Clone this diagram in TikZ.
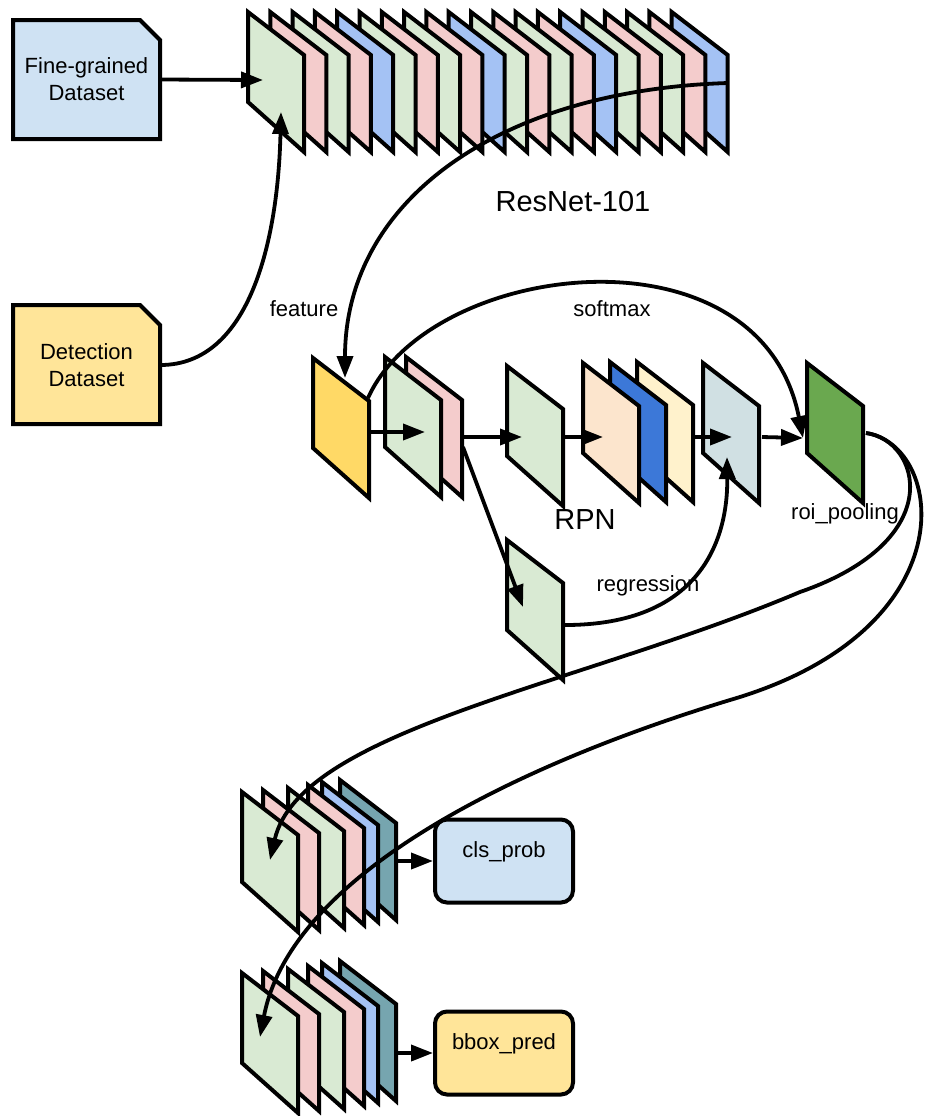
\documentclass[tikz,border=0pt]{standalone}
\usepackage{fontspec}
\setmainfont{Liberation Sans}
\usetikzlibrary{arrows.meta}
\definecolor{fmgreen}{HTML}{D9EAD3}
\definecolor{fmpink}{HTML}{F4CCCC}
\definecolor{fmblue}{HTML}{A4C2F4}
\definecolor{fmyellow}{HTML}{FFD966}
\definecolor{fmpeach}{HTML}{FCE5CD}
\definecolor{fmdblue}{HTML}{3C78D8}
\definecolor{fmlyellow}{HTML}{FFF2CC}
\definecolor{fmgray}{HTML}{D0E0E3}
\definecolor{fmdgreen}{HTML}{6AA84F}
\definecolor{fmteal}{HTML}{76A5AF}
\definecolor{boxblue}{HTML}{CFE2F3}
\definecolor{boxyellow}{HTML}{FFE599}
% one feature map sheet: left x, top y, fill colour
\newcommand{\fmap}[3]{\draw[sheet,fill=#3] ({#1},{#2}) -- ++(56,43) -- ++(0,97) -- ++(-56,-50) -- cycle;}
% dataset card with a cut corner: left x, top y, fill colour
\newcommand{\card}[3]{\draw[sheet,fill=#3] (#1,#2+119) -- (#1,#2) -- (#1+127,#2) -- (#1+147,#2+20) -- (#1+147,#2+119) -- cycle;}
\begin{document}
\begin{tikzpicture}[x=0.5pt,y=-0.5pt,
  sheet/.style={line width=2pt},
  arr/.style={line width=1.9pt,-{Triangle[length=11pt,width=8pt]}},
  dstext/.style={minimum width=73.5pt,minimum height=59.5pt,inner sep=0pt,align=center,
    font=\fontsize{11}{13.5}\selectfont},
  outbox/.style={draw,line width=2pt,rounded corners=6pt,minimum width=69pt,minimum height=41.5pt,
    text height=8pt,text depth=12pt,font=\fontsize{11}{13}\selectfont},
  lbl/.style={font=\fontsize{11}{13}\selectfont},
  biglbl/.style={font=\fontsize{14.5}{17}\selectfont}]
\useasboundingbox (0,0) rectangle (925,1116);

% datasets
\card{13}{20}{boxblue}
\node[dstext] (fine) at (86.5,79.5) {Fine-grained\\Dataset};
\card{13}{305}{boxyellow}
\node[dstext] (det) at (86.5,365) {Detection\\Dataset};

% ResNet-101 stack, back to front
\foreach \g in {3,2,1,0}{
  \foreach \j/\c in {4/fmblue,3/fmpink,2/fmgreen,1/fmpink,0/fmgreen}{
    \fmap{248+22.3*(5*\g+\j)}{12}{\c}
  }
}

% middle row
\fmap{313}{358}{fmyellow}
\fmap{406}{357}{fmpink}
\fmap{385}{357}{fmgreen}
\fmap{507}{366}{fmgreen}
\fmap{637}{362}{fmlyellow}
\fmap{610}{362}{fmdblue}
\fmap{583}{363}{fmpeach}
\fmap{703}{363}{fmgray}
\fmap{807}{363}{fmdgreen}
\fmap{507}{540}{fmgreen}

% output stacks
\foreach \dy in {0,181}{
  \foreach \x/\y/\c in {340/780/fmteal,322/782/fmblue,308/785/fmpink,288/788/fmgreen,263/790/fmpink,242/792/fmgreen}{
    \fmap{\x}{\y+\dy}{\c}
  }
}

\node[outbox,fill=boxblue] (cls) at (504,861) {cls\_prob};
\node[outbox,fill=boxyellow] (bbox) at (504,1053) {bbox\_pred};

% connector ends
\coordinate (res-in) at (263,80);
\coordinate (res-in2) at (281,112);
\coordinate (res-out) at (728,83);
\coordinate (feat-in) at (345,378);
\coordinate (feat-top) at (368,398);
\coordinate (feat-out) at (369,432);
\coordinate (conv-in) at (425,432);
\coordinate (conv-out) at (463,437);
\coordinate (conv-out2) at (463,447);
\coordinate (rpn-in) at (522,437);
\coordinate (rpn-out) at (563,437);
\coordinate (anc-in) at (603,437);
\coordinate (anc-out) at (695,437);
\coordinate (prop-in) at (732,437);
\coordinate (prop-in2) at (727,457);
\coordinate (prop-out) at (762,437);
\coordinate (roi-in) at (803,438);
\coordinate (roi-out) at (866,433);
\coordinate (reg-in) at (523,607);
\coordinate (reg-out) at (565,625);
\coordinate (cls-in) at (270,860);
\coordinate (bbox-in) at (260,1037);
\coordinate (cls-out) at (397,861);
\coordinate (bbox-out) at (397,1053);

% connectors
\draw[arr] (fine.east) -- (res-in);
\draw[arr] (det.east) .. controls (250,365) and (278,240) .. (res-in2);
\draw[arr] (res-out) .. controls (500,90) and (345,200) .. (feat-in);
\draw[arr] (feat-out) -- (conv-in);
\draw[arr] (conv-out) -- (rpn-in);
\draw[arr] (rpn-out) -- (anc-in);
\draw[arr] (anc-out) -- (prop-in);
\draw[arr] (prop-out) -- (roi-in);
\draw[arr] (feat-top) .. controls (430,260) and (760,220) .. (roi-in);
\draw[arr] (conv-out2) -- (reg-in);
\draw[arr] (reg-out) .. controls (700,625) and (728,540) .. (prop-in2);
\draw[arr] (roi-out) .. controls (920,440) and (950,540) .. (800,592)
  .. controls (580,685) and (300,730) .. (cls-in);
\draw[arr] (roi-out) .. controls (945,445) and (970,630) .. (730,700)
  .. controls (500,770) and (290,880) .. (bbox-in);
\draw[arr] (cls-out) -- (cls.west);
\draw[arr] (bbox-out) -- (bbox.west);

% labels
\node[biglbl] (l-resnet) at (573,202) {ResNet-101};
\node[lbl] (l-feature) at (304,309) {feature};
\node[lbl] (l-softmax) at (612,309) {softmax};
\node[biglbl] (l-rpn) at (585,520) {RPN};
\node[lbl] (l-roi) at (845,514) {roi\_pooling};
\node[lbl] (l-reg) at (648,586) {regression};
\end{tikzpicture}
\end{document}
